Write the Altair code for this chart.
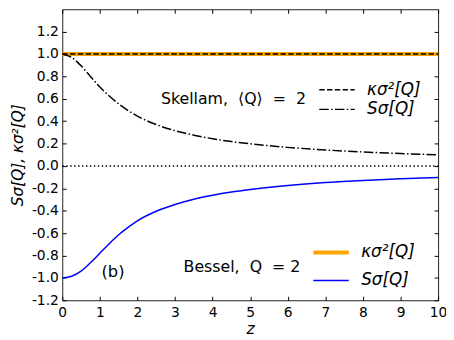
import altair as alt
import pandas as pd

# ---- data ----
z = [0, 0.25, 0.5, 0.75, 1, 1.25, 1.5, 1.75, 2, 2.5, 3, 3.5, 4, 4.5, 5, 6, 7, 8, 9, 10]
skellam_s = [1.0, 0.97, 0.895, 0.80, 0.705, 0.625, 0.555, 0.495, 0.445, 0.37, 0.315,
             0.275, 0.243, 0.218, 0.198, 0.166, 0.143, 0.125, 0.111, 0.10]
bessel_s = [-1.0, -0.985, -0.94, -0.865, -0.78, -0.695, -0.615, -0.548, -0.49, -0.405,
            -0.345, -0.298, -0.262, -0.233, -0.21, -0.174, -0.148, -0.13, -0.115, -0.103]
z_flat = [0, 10]
skellam_k = [1.0, 1.0]
bessel_k = [1.0, 1.0]
zero_line = [0.0, 0.0]

x_ticks = [0, 1, 2, 3, 4, 5, 6, 7, 8, 9, 10]
y_ticks = [-1.2, -1.0, -0.8, -0.6, -0.4, -0.2, 0.0, 0.2, 0.4, 0.6, 0.8, 1.0, 1.2]

K_LABEL = "κσ²[Q]"
S_LABEL = "Sσ[Q]"
NB = "\u00a0"
SKELLAM_TITLE = "Skellam," + NB * 2 + "⟨Q⟩" + NB * 2 + "=" + NB * 2 + "2"
BESSEL_TITLE = "Bessel," + NB * 2 + "Q" + NB * 2 + "=" + NB + "2"
PANEL = ["(b)"]
PANEL_POS = [(1.35, -0.95)]

bessel_df = pd.DataFrame({
    "z": z_flat + z,
    "value": bessel_k + bessel_s,
    "bs": [K_LABEL] * len(z_flat) + [S_LABEL] * len(z),
})
skellam_df = pd.DataFrame({
    "z": z_flat + z,
    "value": skellam_k + skellam_s,
    "sk": [K_LABEL] * len(z_flat) + [S_LABEL] * len(z),
})
zero_df = pd.DataFrame({"z": z_flat, "value": zero_line})
text_df = pd.DataFrame({"z": [p[0] for p in PANEL_POS], "value": [p[1] for p in PANEL_POS], "t": PANEL})

FONT = "DejaVu Sans"
W, H = 381, 295

xs = alt.Scale(domain=[0, 10], nice=False, zero=False)
ys = alt.Scale(domain=[-1.2, 1.4], nice=False, zero=False)

label_expr = "replace(format(datum.value, '.1f'), '\u2212', '-')"

tick_common = dict(labels=False, ticks=True, tickSize=4, tickColor="#000", tickWidth=1,
                   domain=False, grid=False, title=None)

x_main = alt.Axis(orient="bottom", values=x_ticks, title="z", ticks=False, domain=False, grid=False,
                  labelFont=FONT, labelFontSize=14, labelColor="#000", labelPadding=5, labelFlush=False,
                  titleFont=FONT, titleFontSize=16, titleFontStyle="italic", titleFontWeight="normal",
                  titleColor="#000", titlePadding=2)
y_main = alt.Axis(orient="left", values=y_ticks, labelExpr=label_expr, title="Sσ[Q],  κσ²[Q]",
                  ticks=False, domain=False, grid=False,
                  labelFont=FONT, labelFontSize=14, labelColor="#000", labelPadding=4,
                  titleFont=FONT, titleFontSize=15.5, titleFontStyle="italic", titleFontWeight="normal",
                  titleColor="#000", titlePadding=6)

LINE_SYMBOL = "M-3,0H3"

bessel_legend = dict(title=BESSEL_TITLE, legendX=123, legendY=238, rowPadding=10.5, titleFontSize=16)

bessel = alt.Chart(bessel_df).mark_line(interpolate="monotone").encode(
    x=alt.X("z:Q", scale=xs, axis=x_main),
    y=alt.Y("value:Q", scale=ys, axis=y_main),
    color=alt.Color("bs:O", scale=alt.Scale(domain=[K_LABEL, S_LABEL], range=["#FFA500", "#0000FF"]),
                    legend=alt.Legend(**bessel_legend)),
    strokeWidth=alt.StrokeWidth("bs:O", scale=alt.Scale(domain=[K_LABEL, S_LABEL], range=[4, 1.5]),
                                legend=alt.Legend(**bessel_legend)),
)

skellam = alt.Chart(skellam_df).mark_line(interpolate="monotone", color="#000", strokeWidth=1.5).encode(
    x=alt.X("z:Q", scale=xs, axis=alt.Axis(orient="top", offset=-H, values=x_ticks, **tick_common)),
    y=alt.Y("value:Q", scale=ys, axis=alt.Axis(orient="right", offset=-W, values=y_ticks, **tick_common)),
    strokeDash=alt.StrokeDash("sk:N", scale=alt.Scale(domain=[K_LABEL, S_LABEL],
                                                      range=[[5.5, 2.4], [9.6, 2.4, 1.5, 2.4]]),
                              legend=alt.Legend(title=SKELLAM_TITLE, legendX=100, legendY=73,
                                                rowPadding=2, titleFontSize=16,
                                                symbolStrokeColor="#000")),
)

zero = alt.Chart(zero_df).mark_line(color="#000", strokeWidth=1.5, strokeDash=[1.5, 2.5]).encode(
    x=alt.X("z:Q", scale=xs, axis=alt.Axis(orient="bottom", offset=-H, values=x_ticks, **tick_common)),
    y=alt.Y("value:Q", scale=ys, axis=alt.Axis(orient="left", offset=-W, values=y_ticks, **tick_common)),
)

panel = alt.Chart(text_df).mark_text(font=FONT, fontSize=16.5, color="#000").encode(
    x=alt.X("z:Q", scale=xs, axis=None),
    y=alt.Y("value:Q", scale=ys, axis=None),
    text="t:N",
)

chart = alt.layer(zero, bessel, skellam, panel).resolve_axis(
    x="independent", y="independent"
).resolve_legend(
    color="independent", strokeDash="independent", strokeWidth="independent"
).properties(
    width=W, height=H,
    autosize=alt.AutoSizeParams(type="none"),
    padding={"left": 55, "top": -1, "right": 8, "bottom": 37},
).configure_view(
    stroke="#222", strokeWidth=1
).configure_legend(
    orient="none", titleOrient="left", titleAnchor="middle", titleBaseline="middle",
    symbolType=LINE_SYMBOL, symbolSize=144, symbolStrokeWidth=1.5,
    labelFont=FONT, labelFontSize=17, labelFontStyle="italic", labelColor="#000", labelOffset=22,
    titleFont=FONT, titleFontWeight="normal", titleColor="#000", titlePadding=22,
    padding=0,
)

chart.save("out.html", embed_options={"renderer": "svg", "actions": False})
